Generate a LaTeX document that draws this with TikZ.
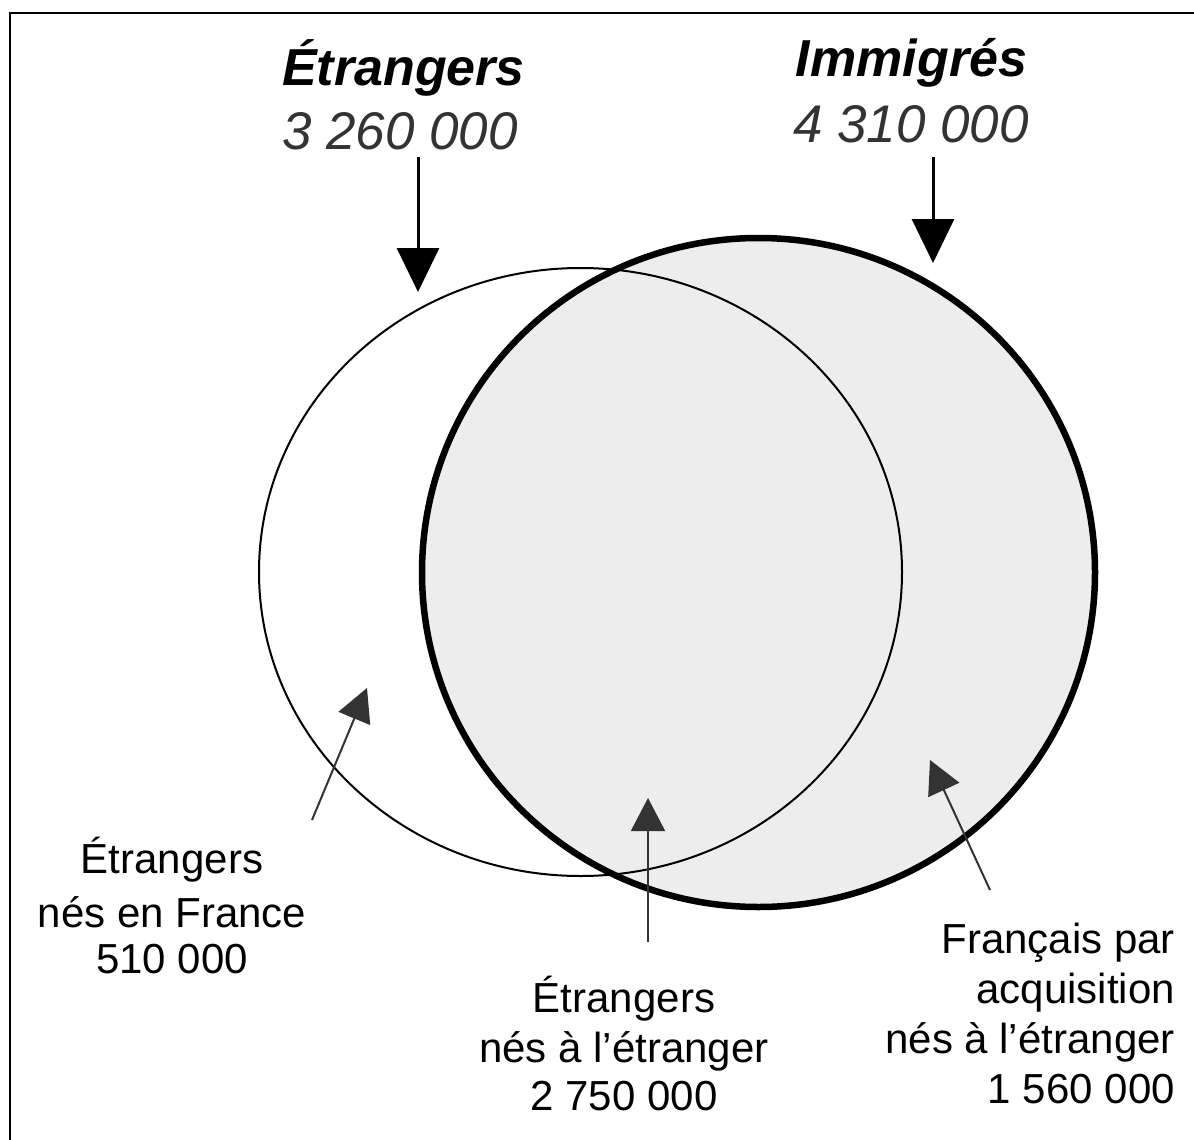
\documentclass[tikz,border=0pt]{standalone}
\usepackage{fontspec}
\setmainfont{Liberation Sans}
\usetikzlibrary{arrows.meta,shapes.geometric}
\definecolor{fillgray}{HTML}{EDEDED}
\definecolor{numgray}{HTML}{333333}
\begin{document}
\begin{tikzpicture}[x=1pt,y=-1pt,
  titletext/.style={font=\fontsize{52}{60}\selectfont\bfseries\itshape, anchor=base, inner sep=0pt},
  numtext/.style={font=\fontsize{53}{60}\selectfont\itshape, anchor=base, inner sep=0pt, text=numgray},
  lbltext/.style={font=\fontsize{42}{50}\selectfont, anchor=base, inner sep=0pt},
  bigarrow/.style={line width=3pt, -{Triangle[width=42pt,length=44pt]}},
  smallarrow/.style={line width=2pt, draw=black!80, -{Triangle[width=34pt,length=33pt]}},
  setline/.style={ellipse, inner sep=0pt, outer sep=0pt},
]
\useasboundingbox (0,0) rectangle (1194,1140);
\fill[white] (0,0) rectangle (1194,1140);
% frame (right and bottom edges lie outside the picture)
\draw[line width=2.2pt] (10,1140) -- (10,13) -- (1194,13);

% sets
\node[setline, fill=fillgray, minimum width=673pt, minimum height=669pt] (immfill) at (758.5,572.5) {};
\node[setline, draw, line width=2pt, minimum width=643pt, minimum height=608pt] (etr) at (580.5,572) {};
\node[setline, draw, line width=6.5pt, minimum width=673pt, minimum height=669pt] (imm) at (758.5,572.5) {};

% titles
\node[titletext] (tetr) at (403.5,85) {Étrangers};
\node[numtext] (netr) at (400,149) {3 260 000};
\node[titletext] (timm) at (911.5,77) {Immigrés};
\node[numtext] (nimm) at (911,142) {4 310 000};

\coordinate (etrfrom) at (418,157);
\coordinate (etrto) at (418,292);
\coordinate (immfrom) at (933,157);
\coordinate (immto) at (933,263);
\draw[bigarrow] (etrfrom) -- (etrto);
\draw[bigarrow] (immfrom) -- (immto);

% left label
\node[lbltext] (la) at (172,873) {Étrangers};
\node[lbltext] (lb) at (172,927) {nés en France};
\node[lbltext] (lc) at (172,973) {510 000};
\coordinate (lfrom) at (312,820);
\coordinate (lto) at (367,688);
\draw[smallarrow] (lfrom) -- (lto);

% middle label
\node[lbltext] (ma) at (624,1012) {Étrangers};
\node[lbltext] (mb) at (624,1062) {nés à l’étranger};
\node[lbltext] (mc) at (624,1110) {2 750 000};
\coordinate (mfrom) at (648,942);
\coordinate (mto) at (648,798);
\draw[smallarrow] (mfrom) -- (mto);

% right label
\node[lbltext, anchor=base east] (ra) at (1175,953) {Français par};
\node[lbltext, anchor=base east] (rb) at (1175,1003) {acquisition};
\node[lbltext, anchor=base east] (rc) at (1175,1053) {nés à l’étranger};
\node[lbltext, anchor=base east] (rd) at (1175,1103) {1 560 000};
\coordinate (rfrom) at (990,890);
\coordinate (rto) at (930,760);
\draw[smallarrow] (rfrom) -- (rto);
\end{tikzpicture}
\end{document}
